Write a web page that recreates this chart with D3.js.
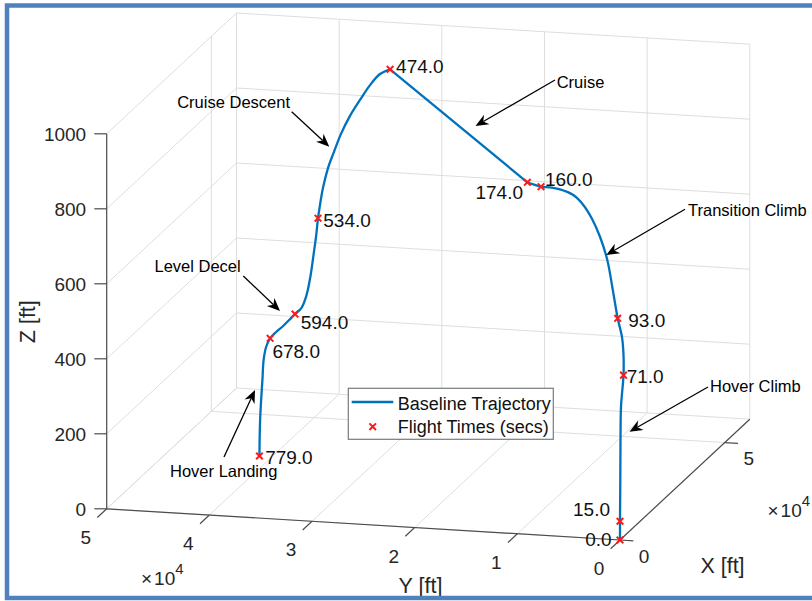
<!DOCTYPE html>
<html><head><meta charset="utf-8">
<script src="https://cdn.jsdelivr.net/npm/d3@7"></script>
<style>
html,body{margin:0;padding:0;background:#fff;}
svg{display:block;font-family:"Liberation Sans",Arial,Helvetica,sans-serif;}
</style></head><body>
<svg id="chart" width="812" height="601"></svg>
<script>
// ================= DATA =================
const xTicks = [0, 50000];
const yTicks = [0, 10000, 20000, 30000, 40000, 50000];
const zTicks = [0, 200, 400, 600, 800, 1000];
const xTickLabels = ["0", "5"];
const yTickLabels = ["0", "1", "2", "3", "4", "5"];
const zTickLabels = ["0", "200", "400", "600", "800", "1000"];
const axisLimits = { x: [0, 62000], y: [0, 50000], z: [0, 1000] };

// baseline trajectory (ft)
const trajX = [0, 0, 143, 239, 478, 1671, 1671, 955, 154, 483, 852, 1342, 1898, 2462, 3133, 4025, 4696, 5300, 6229, 7016,
  57437, 56135, 54842, 53548, 52256, 51092, 50187, 49412, 48766, 48313, 48120, 47861, 47538, 47150, 46634, 45987, 45146,
  42096, 39029, 35933, 32722, 31668, 31008, 30692, 30348, 30086, 29954, 29903];
const trajY = [0, 0, 0, 0, 0, 0, 0, 0, 255, 800, 1411, 2222, 3144, 4077, 5188, 6666, 7776, 8776, 9713, 10458,
  34109, 34825, 35535, 36246, 36957, 37597, 38094, 38520, 38875, 39124, 39230, 39372, 39550, 39763, 40047, 40403, 40865,
  40815, 40774, 40825, 40754, 40929, 41038, 41090, 41147, 41191, 41213, 41221];
const trajZ = [0, 50, 159, 265, 352, 431, 485, 536, 590, 663, 740, 798, 843, 874, 895, 903, 903, 900, 900, 900,
  900, 893, 869, 835, 798, 755, 711, 671, 621, 569, 543, 494, 447, 393, 344, 313, 300,
  300, 300, 300, 300, 282, 251, 199, 147, 95, 42, 0];
// index range of the straight cruise leg within the trajectory
const cruiseLeg = [19, 20];

// flight time markers
const flightTimes = [0, 15, 71, 93, 160, 174, 474, 534, 594, 678, 779];
const markerX = [0, 0, 1671, 154, 5300, 7016, 57437, 48120, 45146, 32722, 29903];
const markerY = [0, 0, 0, 255, 8776, 10458, 34109, 39230, 40865, 40754, 41221];
const markerZ = [0, 50, 431, 590, 900, 900, 900, 543, 300, 300, 0];

const legendLabels = ["Baseline Trajectory", "Flight Times (secs)"];
const phaseNames = ["Cruise", "Cruise Descent", "Transition Climb", "Level Decel", "Hover Landing", "Hover Climb"];

// ================= LAYOUT / STYLE =================
const view = { origin: [620, 540], ex: [129.8, -120.8], ey: [-513.3, -31.2], ez: [0, -375] };
// per-label offsets (dx, dy to baseline, anchor)
const labelLayout = [
  [-8.3, 6.3, "end"], [-10, -5.4, "end"], [3.2, 7.6, "start"], [10.6, 8.5, "start"],
  [4, -0.9, "start"], [-4.3, 16.5, "end"], [6, 4, "start"], [5.3, 8.5, "start"],
  [5.7, 14.5, "start"], [2.3, 19.5, "start"], [5.7, 7.5, "start"]
];
// annotation arrows in figure pixels: text pos, anchor, tail, tip
const annLayout = [
  { tx: 556.7, ty: 87.6, anchor: "start", tail: [555, 80], tip: [475.5, 126] },
  { tx: 290, ty: 108.4, anchor: "end", tail: [291.7, 111.7], tip: [329.3, 146.7] },
  { tx: 688, ty: 215.7, anchor: "start", tail: [685, 209.3], tip: [606.3, 255] },
  { tx: 240.7, ty: 272, anchor: "end", tail: [243.3, 276], tip: [280, 311] },
  { tx: 223.7, ty: 477.4, anchor: "middle", tail: [224, 457], tip: [255, 390] },
  { tx: 710, ty: 392.4, anchor: "start", tail: [708, 387], tip: [629.5, 431.7] }
];

const GRID = "#dedede", AXIS = "#4d4d4d", TXT = "#262626", LINEC = "#0072BD", MARK = "#ff1a1a";

// ================= DRAW =================
const svg = d3.select("#chart");
const xs = d3.scaleLinear().domain(axisLimits.x).range([0, 1]);
const ys = d3.scaleLinear().domain(axisLimits.y).range([0, 1]);
const zs = d3.scaleLinear().domain(axisLimits.z).range([0, 1]);
function P(x, y, z) {
  const a = xs(x), b = ys(y), c = zs(z), O = view.origin;
  return [O[0] + a * view.ex[0] + b * view.ey[0] + c * view.ez[0],
          O[1] + a * view.ex[1] + b * view.ey[1] + c * view.ez[1]];
}
const X0 = axisLimits.x[0], X1 = axisLimits.x[1], Y0 = axisLimits.y[0], Y1 = axisLimits.y[1], Z0 = axisLimits.z[0], Z1 = axisLimits.z[1];

function seg(g, p, q, color, w) {
  g.append("line").attr("x1", p[0]).attr("y1", p[1]).attr("x2", q[0]).attr("y2", q[1])
    .attr("stroke", color).attr("stroke-width", w);
}

svg.append("rect").attr("width", 812).attr("height", 601).attr("fill", "#fff");

// grid
const grid = svg.append("g");
zTicks.forEach(z => { seg(grid, P(X1, Y0, z), P(X1, Y1, z), GRID, 1); seg(grid, P(X0, Y1, z), P(X1, Y1, z), GRID, 1); });
yTicks.forEach(y => { seg(grid, P(X1, y, Z0), P(X1, y, Z1), GRID, 1); seg(grid, P(X0, y, Z0), P(X1, y, Z0), GRID, 1); });
xTicks.forEach(x => { seg(grid, P(x, Y1, Z0), P(x, Y1, Z1), GRID, 1); seg(grid, P(x, Y0, Z0), P(x, Y1, Z0), GRID, 1); });

// axes
const ax = svg.append("g");
seg(ax, P(X0, Y1, Z0), P(X0, Y1, Z1), AXIS, 1.2);
seg(ax, P(X0, Y0, Z0), P(X0, Y1, Z0), AXIS, 1.2);
seg(ax, P(X0, Y0, Z0), P(X1, Y0, Z0), AXIS, 1.2);

const tickFont = 19;
zTicks.forEach((z, i) => {
  const p = P(X0, Y1, z);
  seg(ax, [p[0] - 12.4, p[1]], p, AXIS, 1.2);
  ax.append("text").attr("x", p[0] - 20.5).attr("y", p[1] + 6.8).attr("text-anchor", "end")
    .attr("font-size", tickFont).attr("fill", TXT).text(zTickLabels[i]);
});
yTicks.forEach((y, i) => {
  const p = P(X0, y, Z0), q = P(X0 - 0.072 * (X1 - X0), y, Z0);
  seg(ax, p, q, AXIS, 1.2);
  ax.append("text").attr("x", p[0] - 21).attr("y", p[1] + 28.3 + 6.8).attr("text-anchor", "middle")
    .attr("font-size", tickFont).attr("fill", TXT).text(yTickLabels[i]);
});
xTicks.forEach((x, i) => {
  const p = P(x, Y0, Z0), q = P(x, Y0 - 0.026 * (Y1 - Y0), Z0);
  seg(ax, p, q, AXIS, 1.2);
  ax.append("text").attr("x", p[0] + 24).attr("y", p[1] + 15.7 + 6.8).attr("text-anchor", "middle")
    .attr("font-size", tickFont).attr("fill", TXT).text(xTickLabels[i]);
});
// exponent labels
function expLabel(x, y) {
  const t = ax.append("text").attr("x", x).attr("y", y).attr("font-size", tickFont).attr("fill", TXT);
  t.append("tspan").text("\u00d7");
  t.append("tspan").attr("dx", 2).text("10");
  t.append("tspan").attr("dy", -11).attr("font-size", 15).text("4");
}
expLabel(141, 585);
expLabel(767.5, 516.8);

// axis labels
const labFont = 21.5;
ax.append("text").attr("x", 420.5).attr("y", 592.7).attr("text-anchor", "middle").attr("font-size", labFont).attr("fill", TXT).text("Y [ft]");
ax.append("text").attr("x", 722.5).attr("y", 572.7).attr("text-anchor", "middle").attr("font-size", labFont).attr("fill", TXT).text("X [ft]");
ax.append("text").attr("transform", "translate(35.2,321.7) rotate(-90)").attr("text-anchor", "middle").attr("font-size", labFont).attr("fill", TXT).text("Z [ft]");

// trajectory: smooth pieces joined by the straight cruise leg
const pts = trajX.map((x, i) => P(x, trajY[i], trajZ[i]));
const smooth = d3.line().curve(d3.curveCatmullRom.alpha(0.5));
const straight = d3.line();
const trajPath = smooth(pts.slice(0, cruiseLeg[0] + 1)) +
  straight(pts.slice(cruiseLeg[0], cruiseLeg[1] + 1)).replace(/^M[^L]*/, "") +
  smooth(pts.slice(cruiseLeg[1])).replace(/^M[^CL]*/, "");
svg.append("path").attr("d", trajPath)
  .attr("fill", "none").attr("stroke", LINEC).attr("stroke-width", 2.3).attr("stroke-linejoin", "round");

// markers + labels
const xPath = "M-3.3,-3.3L3.3,3.3M-3.3,3.3L3.3,-3.3";
flightTimes.forEach((t, i) => {
  const p = P(markerX[i], markerY[i], markerZ[i]);
  svg.append("path").attr("d", xPath).attr("transform", `translate(${p[0]},${p[1]})`)
    .attr("stroke", MARK).attr("stroke-width", 2).attr("fill", "none");
  const L = labelLayout[i];
  svg.append("text").attr("x", p[0] + L[0]).attr("y", p[1] + L[1]).attr("text-anchor", L[2])
    .attr("font-size", tickFont).attr("fill", "#111").text(t.toFixed(1));
});

// legend
const lg = svg.append("g");
lg.append("rect").attr("x", 348.3).attr("y", 388.3).attr("width", 205).attr("height", 51)
  .attr("fill", "#fff").attr("stroke", "#7a7a7a").attr("stroke-width", 1.2);
lg.append("line").attr("x1", 351.7).attr("x2", 393.3).attr("y1", 402).attr("y2", 402)
  .attr("stroke", LINEC).attr("stroke-width", 2.3);
lg.append("path").attr("d", xPath).attr("transform", "translate(372.7,426.7)")
  .attr("stroke", MARK).attr("stroke-width", 2).attr("fill", "none");
lg.append("text").attr("x", 397.7).attr("y", 409.7).attr("font-size", 18).attr("fill", "#111").text(legendLabels[0]);
lg.append("text").attr("x", 397.7).attr("y", 433).attr("font-size", 18).attr("fill", "#111").text(legendLabels[1]);

// annotations
const an = svg.append("g");
phaseNames.forEach((name, i) => {
  const A = annLayout[i];
  const dx = A.tip[0] - A.tail[0], dy = A.tip[1] - A.tail[1];
  const len = Math.hypot(dx, dy), ux = dx / len, uy = dy / len, nx = -uy, ny = ux;
  const HL = 13, HW = 5.5, NOTCH = 9;
  const base = [A.tip[0] - ux * NOTCH, A.tip[1] - uy * NOTCH];
  an.append("line").attr("x1", A.tail[0]).attr("y1", A.tail[1]).attr("x2", base[0]).attr("y2", base[1])
    .attr("stroke", "#000").attr("stroke-width", 1.3);
  const w1 = [A.tip[0] - ux * HL + nx * HW, A.tip[1] - uy * HL + ny * HW];
  const w2 = [A.tip[0] - ux * HL - nx * HW, A.tip[1] - uy * HL - ny * HW];
  an.append("path").attr("d", `M${A.tip[0]},${A.tip[1]}L${w1[0]},${w1[1]}L${base[0]},${base[1]}L${w2[0]},${w2[1]}Z`)
    .attr("fill", "#000");
  an.append("text").attr("x", A.tx).attr("y", A.ty).attr("text-anchor", A.anchor)
    .attr("font-size", 16.5).attr("fill", "#000").text(name);
});

// picture frame
svg.append("rect").attr("x", 7).attr("y", 5.5).attr("width", 830).attr("height", 592.5)
  .attr("fill", "none").attr("stroke", "#4f81bd").attr("stroke-width", 4.5);
</script>
</body></html>
